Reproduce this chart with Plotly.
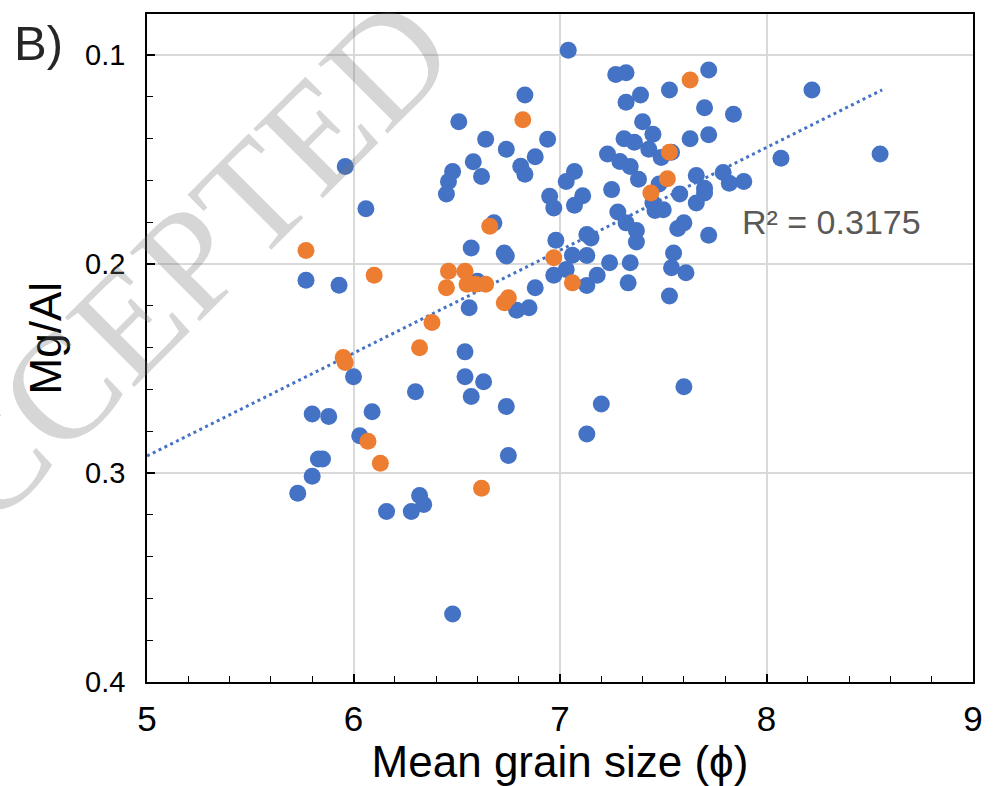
import plotly.graph_objects as go

# Mean grain size (phi) and Mg/Al ratio, group 1 (blue)
blue_x = [6.83, 6.51, 6.64, 6.74, 6.94, 6.58, 6.81, 6.88, 6.83, 6.62,
          6.48, 6.46, 6.45, 5.96, 6.06, 6.95, 6.97, 6.68, 6.57, 6.73,
          6.74, 6.98, 5.77, 5.93, 6.88, 6.97, 6.60, 6.56, 6.79, 6.85,
          6.00, 6.54, 6.54, 6.63, 6.57, 6.30, 6.74, 5.80, 5.88, 6.09,
          6.03, 5.83, 5.85, 5.80, 5.73, 6.75, 6.32, 6.34, 6.16, 6.28,
          6.48, 7.04, 7.27, 7.32, 7.72, 7.53, 8.22, 7.39, 7.32, 7.70,
          7.84, 7.40, 7.45, 7.72, 7.63, 7.31, 7.36, 7.43, 7.54, 7.49,
          7.23, 7.29, 7.34, 8.07, 8.55, 7.07, 7.03, 7.38, 7.48, 7.66,
          7.79, 7.82, 7.89, 7.70, 7.70, 7.58, 7.66, 7.25, 7.11, 7.07,
          7.45, 7.46, 7.50, 7.28, 7.32, 7.37, 7.37, 7.57, 7.60, 7.72,
          7.13, 7.15, 7.06, 7.13, 7.24, 7.34, 7.55, 7.54, 7.61, 7.03,
          7.13, 7.18, 7.33, 7.53, 7.60, 7.20, 7.13]
blue_y = [0.1192, 0.1320, 0.1404, 0.1452, 0.1404, 0.1512, 0.1533, 0.1488, 0.1571, 0.1582,
          0.1558, 0.1606, 0.1666, 0.1534, 0.1736, 0.1677, 0.1733, 0.1804, 0.1924, 0.1948,
          0.1963, 0.1887, 0.2079, 0.2102, 0.2114, 0.2054, 0.2083, 0.2210, 0.2222, 0.2210,
          0.2540, 0.2421, 0.2540, 0.2564, 0.2634, 0.2612, 0.2682, 0.2718, 0.2730, 0.2707,
          0.2822, 0.2933, 0.2933, 0.3016, 0.3097, 0.2917, 0.3108, 0.3151, 0.3184, 0.3184,
          0.3675, 0.0978, 0.1094, 0.1086, 0.1073, 0.1168, 0.1168, 0.1192, 0.1227, 0.1253,
          0.1285, 0.1320, 0.1380, 0.1383, 0.1402, 0.1402, 0.1418, 0.1452, 0.1466, 0.1491,
          0.1475, 0.1510, 0.1534, 0.1495, 0.1475, 0.1558, 0.1606, 0.1595, 0.1618, 0.1577,
          0.1563, 0.1614, 0.1606, 0.1638, 0.1661, 0.1666, 0.1709, 0.1645, 0.1674, 0.1720,
          0.1709, 0.1745, 0.1741, 0.1752, 0.1804, 0.1841, 0.1895, 0.1831, 0.1804, 0.1863,
          0.1860, 0.1876, 0.1959, 0.1960, 0.1995, 0.1995, 0.1948, 0.2019, 0.2043, 0.2027,
          0.2103, 0.2054, 0.2091, 0.2154, 0.2588, 0.2670, 0.2814]

# Group 2 (orange)
orange_x = [6.82, 6.66, 6.97, 5.77, 6.10, 6.46, 6.54, 6.45, 6.55, 6.59,
            6.64, 6.73, 6.75, 6.38, 6.32, 5.95, 5.96, 6.07, 6.13, 6.62,
            7.63, 7.53, 7.52, 7.44, 7.06]
orange_y = [0.1311, 0.1820, 0.1971, 0.1936, 0.2055, 0.2035, 0.2035, 0.2114, 0.2098, 0.2098,
            0.2098, 0.2186, 0.2162, 0.2281, 0.2401, 0.2448, 0.2472, 0.2849, 0.2954, 0.3073,
            0.1121, 0.1466, 0.1593, 0.1661, 0.2091]

# Linear trend line (with backward forecast to phi = 5)
trend_x = [5.0, 8.56]
trend_y = [0.2919, 0.1168]
r_squared = "0.3175"

x_ticks = [5, 6, 7, 8, 9]
x_tick_text = ["5", "6", "7", "8", "9"]
y_ticks = [0.1, 0.2, 0.3, 0.4]
y_tick_text = ["0.1", "0.2", "0.3", "0.4"]

BLUE = "#4472C4"
ORANGE = "#ED7D31"
FONT = "Arial, Liberation Sans, sans-serif"

fig = go.Figure()
fig.add_trace(go.Scatter(
    x=trend_x, y=trend_y, mode="lines",
    line=dict(color=BLUE, width=3, dash="3px,3.5px"),
    hoverinfo="skip", showlegend=False))
fig.add_trace(go.Scatter(
    x=blue_x, y=blue_y, mode="markers",
    marker=dict(color=BLUE, size=17, line=dict(width=0)),
    showlegend=False))
fig.add_trace(go.Scatter(
    x=orange_x, y=orange_y, mode="markers",
    marker=dict(color=ORANGE, size=17, line=dict(width=0)),
    showlegend=False))

axis_common = dict(
    showline=True, linecolor="black", linewidth=1.5, mirror=True,
    ticks="inside", ticklen=8, tickwidth=1.5, tickcolor="black",
    showgrid=True, gridcolor="#d9d9d9", gridwidth=1.5,
    zeroline=False,
)

fig.update_xaxes(
    range=[5, 9], tickvals=x_ticks, ticktext=x_tick_text,
    tickfont=dict(family=FONT, size=35, color="black"),
    ticklabelstandoff=5,
    minor=dict(dtick=0.2, ticks="inside", ticklen=6, tickwidth=1.2,
               tickcolor="black", showgrid=False),
    title=dict(text="Mean grain size (\u03d5)",
               font=dict(family=FONT, size=44, color="black"), standoff=4),
    **axis_common)
fig.update_yaxes(
    range=[0.4, 0.0805], tickvals=y_ticks, ticktext=y_tick_text,
    tickfont=dict(family=FONT, size=29, color="black"),
    ticklabelstandoff=14,
    minor=dict(dtick=0.02, ticks="inside", ticklen=6, tickwidth=1.2,
               tickcolor="black", showgrid=False),
    **axis_common)

# y-axis title
fig.add_annotation(
    x=-0.1229, y=0.515, xref="paper", yref="paper",
    xanchor="center", yanchor="middle", textangle=-90,
    text="Mg/Al", showarrow=False,
    font=dict(family=FONT, size=44, color="black"))

fig.add_annotation(
    x=7.87, y=0.1800, xref="x", yref="y", xanchor="left", yanchor="middle",
    text="R\u00b2 = " + r_squared, showarrow=False,
    font=dict(family=FONT, size=34, color="#595959"))

fig.add_annotation(
    x=-0.163, y=1.0, xref="paper", yref="paper", xanchor="left", yanchor="top",
    text="B)", showarrow=False,
    font=dict(family=FONT, size=49, color="#262626"))

# diagonal manuscript watermark
fig.add_annotation(
    x=0.483, y=1.166, xref="paper", yref="paper", xanchor="center", yanchor="middle",
    text="ACCEPTED\u00a0\u00a0\u00a0\u00a0MANUSCRIPT", showarrow=False, textangle=-45,
    font=dict(family="Liberation Serif, Times New Roman, serif", size=150,
              color="rgba(120,120,120,0.3)"))

fig.update_layout(
    width=995, height=786,
    margin=dict(l=147, r=18, t=12, b=104),
    paper_bgcolor="white", plot_bgcolor="white",
    showlegend=False,
)

fig.write_html("out.html")
